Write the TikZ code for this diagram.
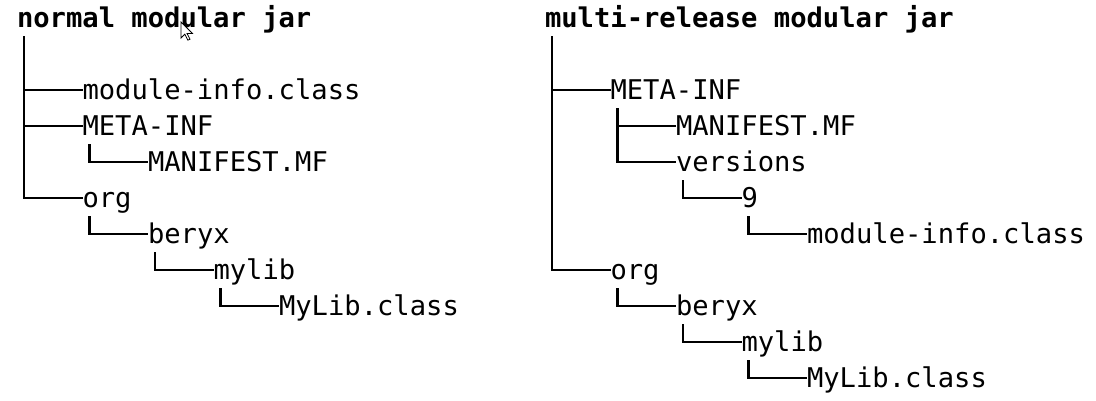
\documentclass[tikz,border=0pt]{standalone}
\usepackage{fontspec}
\newfontfamily\treemono{DejaVu Sans Mono}
\tikzset{
  item/.style={anchor=west, inner sep=0pt, outer sep=0pt, text height=18pt, text depth=0pt,
    font=\treemono\fontsize{27.16}{30}\selectfont},
  hdr/.style={item, font=\treemono\bfseries\fontsize{27.16}{30}\selectfont},
  tree/.style={line width=2.1pt, black},
}
\begin{document}
\begin{tikzpicture}[x=1pt, y=-1pt]
\useasboundingbox[fill=white] (0,0) rectangle (1096,400);
% ---------- left tree ----------
\node[hdr]  (lh)    at (17,18.5)    {normal modular jar};
\node[item] (lmod)  at (82.5,90)  {module-info.class};
\node[item] (lmeta) at (82.5,126) {META-INF};
\node[item] (lman)  at (148,162)  {MANIFEST.MF};
\node[item] (lorg)  at (82.5,198) {org};
\node[item] (lber)  at (148,234)  {beryx};
\node[item] (llib)  at (213.5,270){mylib};
\node[item] (lcls)  at (279,306)  {MyLib.class};
\coordinate (la) at (24,36);
\coordinate (lb) at (89.5,144);
\coordinate (lc) at (89.5,216);
\coordinate (ld) at (155,252);
\coordinate (le) at (220.5,288);
\draw[tree] (la) |- (lorg.west);
\draw[tree] (la |- lmod.west) -- (lmod.west);
\draw[tree] (la |- lmeta.west) -- (lmeta.west);
\draw[tree] (lb) |- (lman.west);
\draw[tree] (lc) |- (lber.west);
\draw[tree] (ld) |- (llib.west);
\draw[tree] (le) |- (lcls.west);
% ---------- right tree ----------
\node[hdr]  (rh)    at (545,18.5)    {multi-release modular jar};
\node[item] (rmeta) at (610.5,90)  {META-INF};
\node[item] (rman)  at (676,126)   {MANIFEST.MF};
\node[item] (rver)  at (676,162)   {versions};
\node[item] (r9)    at (741.5,198) {9};
\node[item] (rmod)  at (807,234)   {module-info.class};
\node[item] (rorg)  at (610.5,270) {org};
\node[item] (rber)  at (676,306)   {beryx};
\node[item] (rlib)  at (741.5,342) {mylib};
\node[item] (rcls)  at (807,378)   {MyLib.class};
\coordinate (ra) at (552,36);
\coordinate (rb) at (617.5,108);
\coordinate (rc) at (683,180);
\coordinate (rd) at (748.5,216);
\coordinate (re) at (617.5,288);
\coordinate (rf) at (683,324);
\coordinate (rg) at (748.5,360);
\draw[tree] (ra) |- (rorg.west);
\draw[tree] (ra |- rmeta.west) -- (rmeta.west);
\draw[tree] (rb) |- (rver.west);
\draw[tree] (rb |- rman.west) -- (rman.west);
\draw[tree] (rc) |- (r9.west);
\draw[tree] (rd) |- (rmod.west);
\draw[tree] (re) |- (rber.west);
\draw[tree] (rf) |- (rlib.west);
\draw[tree] (rg) |- (rcls.west);
% ---------- mouse pointer ----------
\draw[fill=white, line width=0.8pt, line join=miter]
  (181,22) -- ++(0,16) -- ++(3.8,-3.8) -- ++(3,6) -- ++(2.2,-1) -- ++(-3,-5.8) -- ++(5.4,0) -- cycle;
\end{tikzpicture}
\end{document}
